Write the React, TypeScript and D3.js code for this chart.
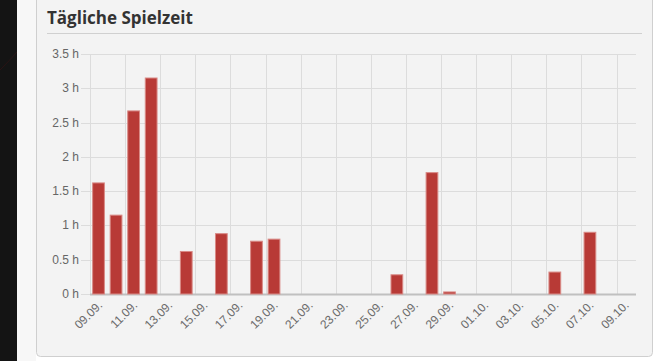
import React from "react";
import * as d3 from "d3";

const dayLabels = [
  "09.09.", "10.09.", "11.09.", "12.09.", "13.09.", "14.09.", "15.09.", "16.09.",
  "17.09.", "18.09.", "19.09.", "20.09.", "21.09.", "22.09.", "23.09.", "24.09.",
  "25.09.", "26.09.", "27.09.", "28.09.", "29.09.", "30.09.", "01.10.", "02.10.",
  "03.10.", "04.10.", "05.10.", "06.10.", "07.10.", "08.10.", "09.10.",
];
const hours = [
  1.62, 1.15, 2.67, 3.15, 0, 0.62, 0, 0.88,
  0, 0.77, 0.8, 0, 0, 0, 0, 0,
  0, 0.28, 0, 1.77, 0.03, 0, 0, 0,
  0, 0, 0.32, 0, 0.9, 0, 0,
];
const yTicks = [0, 0.5, 1, 1.5, 2, 2.5, 3, 3.5];
const title = "Tägliche Spielzeit";

const W = 669;
const H = 361;
const plot = { left: 90, right: 636, top: 54, bottom: 294 };
const font = "'Liberation Sans', Arial, sans-serif";

export default function App() {
  const x = d3.scaleLinear().domain([0, 31.11]).range([plot.left, plot.right]);
  const y = d3.scaleLinear().domain([0, 3.5]).range([plot.bottom, plot.top]);
  const xTicks = d3.range(0, dayLabels.length, 2);

  return (
    <svg
      width={W}
      height={H}
      style={{ position: "fixed", left: 0, top: 0, display: "block" }}
    >
      <rect x={0} y={0} width={W} height={H} fill="#ffffff" />
      <rect x={0} y={0} width={17} height={H} fill="#141414" />
      <path d="M0,70 Q10,60 17,52" stroke="#2a1414" strokeWidth={1} fill="none" />
      <rect x={17} y={0} width={19} height={H} fill="#f7f7f7" />
      <path
        d={`M36.5,-5 L36.5,${H - 8.5} Q36.5,${H - 4.5} 40.5,${H - 4.5} L648.5,${H - 4.5} Q652.5,${H - 4.5} 652.5,${H - 8.5} L652.5,-5`}
        fill="#f3f3f3"
        stroke="#cfcfcf"
        strokeWidth={1}
      />
      <text
        x={47}
        y={24}
        fontFamily="'Open Sans', sans-serif"
        fontWeight={700}
        fontSize={17}
        fill="#333"
      >
        {title}
      </text>
      <line x1={47} x2={642} y1={33.5} y2={33.5} stroke="#d0d0d0" strokeWidth={1} />

      {yTicks.map((t) => (
        <g key={"y" + t}>
          <line
            x1={81}
            x2={plot.right}
            y1={Math.round(y(t)) + 0.5}
            y2={Math.round(y(t)) + 0.5}
            stroke="#dcdcdc"
            strokeWidth={1}
          />
          <text
            x={79}
            y={y(t) + 4}
            textAnchor="end"
            fontFamily={font}
            fontSize={12}
            fill="#666"
          >
            {`${t} h`}
          </text>
        </g>
      ))}

      {xTicks.map((i) => (
        <g key={"x" + i}>
          <line
            x1={Math.round(x(i)) + 0.5}
            x2={Math.round(x(i)) + 0.5}
            y1={plot.top}
            y2={plot.bottom}
            stroke="#dcdcdc"
            strokeWidth={1}
          />
          <text
            transform={`translate(${x(i) + 13},${plot.bottom + 12}) rotate(-45)`}
            textAnchor="end"
            fontFamily={font}
            fontSize={12}
            fill="#6a6a6a"
          >
            {dayLabels[i]}
          </text>
        </g>
      ))}

      <line
        x1={plot.left}
        x2={plot.right}
        y1={plot.bottom + 0.5}
        y2={plot.bottom + 0.5}
        stroke="#c0c0c0"
        strokeWidth={2}
      />

      {hours.map((v, i) =>
        v > 0 ? (
          <rect
            key={"b" + i}
            x={x(i + 0.15)}
            y={y(v)}
            width={x(i + 0.82) - x(i + 0.15)}
            height={y(0) - y(v)}
            fill="#b83a36"
            stroke="#d98a86"
            strokeWidth={1}
          />
        ) : null
      )}
    </svg>
  );
}
